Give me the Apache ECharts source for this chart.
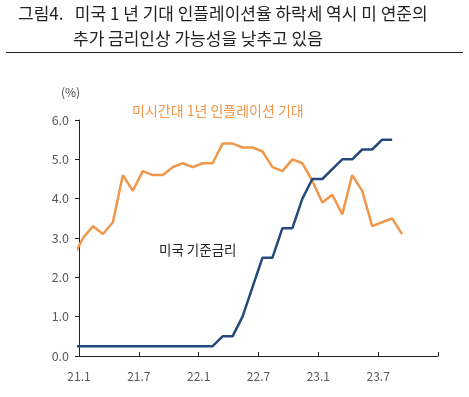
<!DOCTYPE html>
<html>
<head>
<meta charset="utf-8">
<script src="https://cdn.jsdelivr.net/npm/echarts@6/dist/echarts.min.js"></script>
<style>
  html, body { margin: 0; padding: 0; background: #fff; }
  #chart { width: 469px; height: 397px; }
</style>
</head>
<body>
<div id="chart"></div>
<script>
// months counted from 2021.1 (0) ; -1 is 2020.12 which is clipped by the axis
const monthIndex = [-1, 0, 1, 2, 3, 4, 5, 6, 7, 8, 9, 10, 11, 12, 13, 14, 15, 16, 17, 18, 19,
  20, 21, 22, 23, 24, 25, 26, 27, 28, 29, 30, 31, 32];
const tickLabels = ["21.1", "21.7", "22.1", "22.7", "23.1", "23.7", ""];

// Michigan 1y inflation expectations (%)
const inflationExp = [2.5, 3.0, 3.3, 3.1, 3.4, 4.6, 4.2, 4.7, 4.6, 4.6, 4.8, 4.9, 4.8, 4.9, 4.9,
  5.4, 5.4, 5.3, 5.3, 5.2, 4.8, 4.7, 5.0, 4.9, 4.45, 3.9, 4.1, 3.6, 4.6, 4.2, 3.3, 3.4, 3.5, 3.1];
// US policy rate (%) upper bound, ends 2023.8
const fedRate = [0.25, 0.25, 0.25, 0.25, 0.25, 0.25, 0.25, 0.25, 0.25, 0.25, 0.25, 0.25, 0.25, 0.25, 0.25,
  0.5, 0.5, 1.0, 1.75, 2.5, 2.5, 3.25, 3.25, 4.0, 4.5, 4.5, 4.75, 5.0, 5.0, 5.25, 5.25, 5.5, 5.5];

const ORANGE = "#F0974B";
const NAVY = "#234A7C";
const FONT = "'Noto Sans CJK KR', 'Noto Sans', sans-serif";

// points sit a little after the month tick, like the original
const toPairs = (vals) => vals.map((v, i) => [monthIndex[i] + 0.4, v]);

const chart = echarts.init(document.getElementById("chart"));

chart.setOption({
  animation: false,
  grid: { left: 79, right: 31, top: 120, bottom: 41 },
  xAxis: {
    type: "value",
    min: 0,
    max: 36,
    interval: 6,
    splitLine: { show: false },
    axisLine: { lineStyle: { color: "#222", width: 1 } },
    axisTick: { inside: true, length: 4, lineStyle: { color: "#222" } },
    axisLabel: {
      color: "#595959",
      fontFamily: FONT,
      fontSize: 12,
      margin: 14,
      formatter: (v) => tickLabels[v / 6] ?? "",
    },
  },
  yAxis: {
    type: "value",
    min: 0,
    max: 6,
    interval: 1,
    splitLine: { show: false },
    axisLine: { show: true, lineStyle: { color: "#222", width: 1 } },
    axisTick: { show: true, length: 4, lineStyle: { color: "#222" } },
    axisLabel: {
      color: "#595959",
      fontFamily: FONT,
      fontSize: 12.5,
      margin: 10,
      formatter: (v) => v.toFixed(1),
    },
  },
  series: [
    {
      name: "미시간대 1년 인플레이션 기대",
      type: "line",
      data: toPairs(inflationExp),
      symbol: "none",
      clip: true,
      lineStyle: { color: ORANGE, width: 2.5 },
    },
    {
      name: "미국 기준금리",
      type: "line",
      data: toPairs(fedRate),
      symbol: "none",
      clip: true,
      lineStyle: { color: NAVY, width: 2.5 },
    },
  ],
  graphic: [
    {
      type: "text", left: 18, top: 5,
      style: { text: "그림4.   미국 1 년 기대 인플레이션율 하락세 역시 미 연준의", fontSize: 17, fontFamily: FONT, fill: "#222" },
    },
    {
      type: "text", left: 73, top: 30,
      style: { text: "추가 금리인상 가능성을 낮추고 있음", fontSize: 17, fontFamily: FONT, fill: "#222" },
    },
    {
      type: "line",
      shape: { x1: 6, y1: 52.5, x2: 463, y2: 52.5 },
      style: { stroke: "#222", lineWidth: 1 },
    },
    {
      type: "text", left: 61, top: 86,
      style: { text: "(%)", fontSize: 12, fontFamily: FONT, fill: "#444" },
    },
    {
      type: "text", left: 132, top: 104,
      style: { text: "미시간대 1년 인플레이션 기대", fontSize: 14, fontFamily: FONT, fill: ORANGE },
    },
    {
      type: "text", left: 159, top: 243,
      style: { text: "미국 기준금리", fontSize: 13.5, fontFamily: FONT, fill: "#222" },
    },
  ],
});
</script>
</body>
</html>
